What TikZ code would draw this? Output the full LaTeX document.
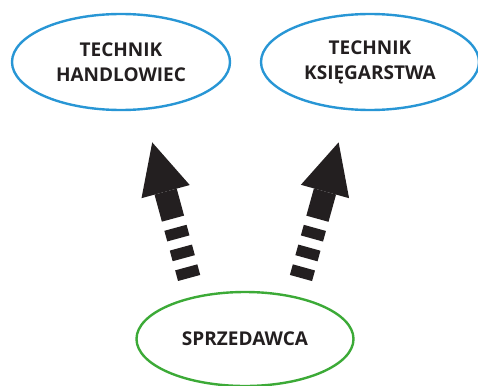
\documentclass[tikz,border=0pt]{standalone}
\usepackage{fontspec}
\setmainfont{Open Sans}
\usetikzlibrary{shapes.geometric, arrows.meta, positioning}
\definecolor{ovalblue}{RGB}{40,150,213}
\definecolor{ovalgreen}{RGB}{60,170,55}
\definecolor{inkblack}{RGB}{35,31,32}
\tikzset{
    oval/.style={ellipse, draw=ovalblue, line width=2.4pt, minimum width=218pt, minimum height=96pt, inner sep=0pt, align=center, text=inkblack, font=\bfseries\fontsize{19}{25}\selectfont},
    baseoval/.style={oval, draw=ovalgreen, minimum width=217pt, minimum height=94pt},
    bigarrow/.style={draw=inkblack, line width=23pt, -{Triangle[width=50pt, length=51pt, line width=0pt]},
        dash pattern=on 11pt off 9.5pt on 11pt off 9.5pt on 11pt off 9.5pt on 200pt off 1pt}
}

\begin{document}
\begin{tikzpicture}[x=1pt, y=-1pt]
\useasboundingbox (0,0) rectangle (478,385);

% Nodes
\node (th) [oval] at (121,62) {TECHNIK\\HANDLOWIEC};
\node (tk) [oval] at (370,62) {TECHNIK\\KSIĘGARSTWA};
\node (sp) [baseoval] at (245,339) {SPRZEDAWCA};

% Arrows
\draw [bigarrow, shorten <=19pt, shorten >=33.4pt] (sp.140) -- (th.-65);
\draw [bigarrow, shorten <=19pt, shorten >=33.4pt] (sp.40) -- (tk.-115);

\end{tikzpicture}
\end{document}
